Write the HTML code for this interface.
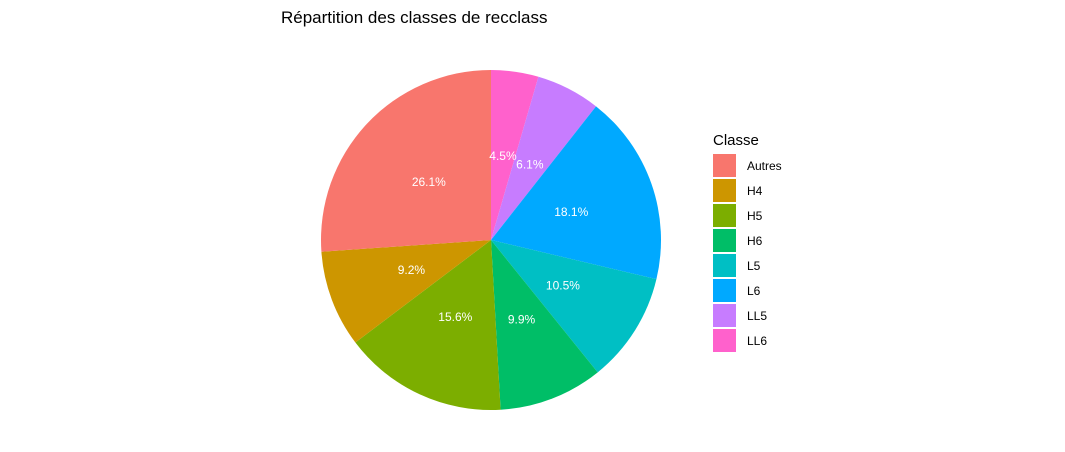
<!DOCTYPE html>
<html><head><meta charset="utf-8"><style>
body{margin:0;background:#fff;}
svg{display:block;font-family:"Liberation Sans",sans-serif;}
</style></head><body>
<svg id="chart" width="1065" height="452">
<rect width="1065" height="452" fill="#fff"/>
<text x="281" y="23" font-size="17" fill="#000">Répartition des classes de recclass</text>
<g id="slices"></g>
<g id="legend"><text x="713" y="145" font-size="15" fill="#000">Classe</text></g>
</svg>
<script>
const categories=["Autres","H4","H5","H6","L5","L6","LL5","LL6"];
const values=[26.1,9.2,15.6,9.9,10.5,18.1,6.1,4.5];
const labels=["26.1%","9.2%","15.6%","9.9%","10.5%","18.1%","6.1%","4.5%"];
const colors=["#F8766D","#CD9600","#7CAE00","#00BE67","#00BFC4","#00A9FF","#C77CFF","#FF61CC"];
const NS="http://www.w3.org/2000/svg";
const cx=491,cy=240,R=170;
const total=values.reduce((a,b)=>a+b,0);
const g=document.getElementById('slices');
function pt(frac,r){const a=frac*2*Math.PI;return [cx+r*Math.sin(a),cy-r*Math.cos(a)];}
let start=0;
for(let i=categories.length-1;i>=0;i--){
  const f0=start/total,f1=(start+values[i])/total;
  const [x0,y0]=pt(f0,R),[x1,y1]=pt(f1,R);
  const large=(f1-f0)>0.5?1:0;
  const p=document.createElementNS(NS,'path');
  p.setAttribute('d',`M${cx},${cy}L${x0},${y0}A${R},${R} 0 ${large} 1 ${x1},${y1}Z`);
  p.setAttribute('fill',colors[i]);
  
  
  g.appendChild(p);
  start+=values[i];
}
start=0;
for(let i=categories.length-1;i>=0;i--){
  const [lx,ly]=pt((start+values[i]/2)/total,R/2);
  const t=document.createElementNS(NS,'text');
  t.setAttribute('x',lx);t.setAttribute('y',ly+4);
  t.setAttribute('text-anchor','middle');t.setAttribute('font-size','12');t.setAttribute('fill','#fff');
  t.textContent=labels[i];
  
  
  g.appendChild(t);
  start+=values[i];
}
const lg=document.getElementById('legend');
categories.forEach((c,i)=>{
  const y=154+i*25;
  const r=document.createElementNS(NS,'rect');
  r.setAttribute('x',713);r.setAttribute('y',y);r.setAttribute('width',23);r.setAttribute('height',23);r.setAttribute('fill',colors[i]);
  
  
  lg.appendChild(r);
  const t=document.createElementNS(NS,'text');
  t.setAttribute('x',747);t.setAttribute('y',y+16);t.setAttribute('font-size','12');t.setAttribute('fill','#000');
  t.textContent=c;
  
  
  lg.appendChild(t);
});
</script>
</body></html>
